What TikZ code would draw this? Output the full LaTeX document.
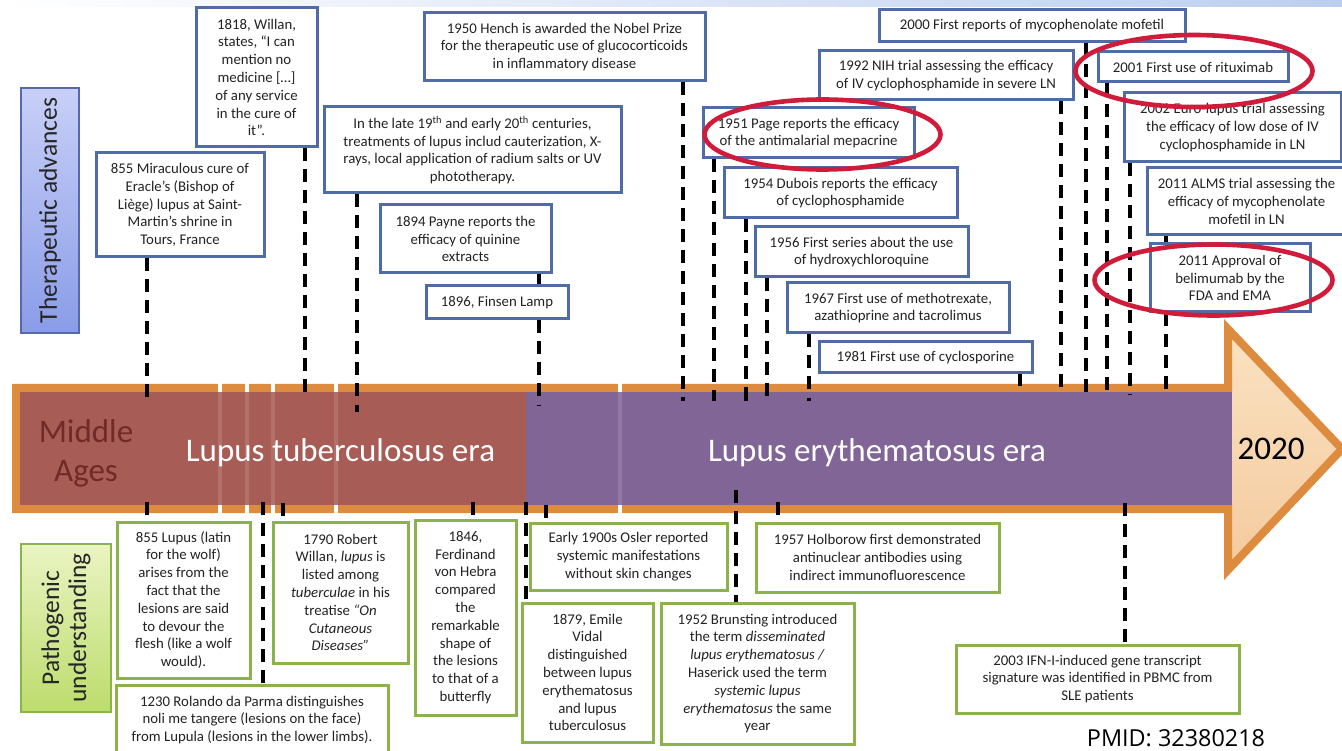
\documentclass[tikz,border=0pt]{standalone}
\usepackage{fontspec}
\setmainfont{Carlito}
\newfontfamily\pmidfont{Open Sans}
\usetikzlibrary{shapes.geometric}

\definecolor{barorange}{RGB}{221,139,62}
\definecolor{brick}{RGB}{167,92,86}
\definecolor{erapurple}{RGB}{128,101,150}
\definecolor{peachtop}{RGB}{250,226,194}
\definecolor{peachbot}{RGB}{244,202,158}
\definecolor{maroon}{RGB}{112,42,40}
\definecolor{tborder}{RGB}{79,108,168}
\definecolor{pborder}{RGB}{140,178,76}
\definecolor{boxtext}{RGB}{35,35,35}
\definecolor{ringred}{RGB}{208,28,58}
\definecolor{sideblueA}{RGB}{200,208,247}
\definecolor{sideblueB}{RGB}{138,156,232}
\definecolor{sideblueline}{RGB}{88,104,172}
\definecolor{sidegreenA}{RGB}{234,244,194}
\definecolor{sidegreenB}{RGB}{188,220,108}
\definecolor{topblue}{RGB}{188,206,240}

\newcommand\tlboxfont{\fontsize{14.8}{17.8}\selectfont}
\newcommand\tlerafont{\fontsize{33}{39}\selectfont}
\newcommand\tlsidefont{\fontsize{25.5}{27}\selectfont}

\begin{document}
\begin{tikzpicture}[x=1pt,y=-1pt,
  tbox/.style={draw=tborder, line width=3pt, fill=white, inner sep=0pt,
    align=center, font=\tlboxfont, text=boxtext},
  pbox/.style={draw=pborder, line width=3pt, fill=white, inner sep=0pt,
    align=center, font=\tlboxfont, text=boxtext},
  conn/.style={draw=black, line width=3.6pt, dash pattern=on 13pt off 8pt},
  ring/.style={ellipse, draw=ringred, line width=4.6pt, inner sep=0pt},
  eralabel/.style={font=\tlerafont, anchor=base, inner sep=0pt},
  sidelabel/.style={font=\tlsidefont, text={rgb,255:red,38;green,38;blue,38},
    rotate=90, align=center, inner sep=0pt}]

\useasboundingbox (0,0) rectangle (1342,751);
\fill[white] (0,0) rectangle (1342,751);

% light band along the top edge
\shade[left color=white, right color=topblue] (0,0) rectangle (1342,7);

% ---- the time arrow ----
\draw[barorange, line width=8pt, line join=miter, top color=peachtop, bottom color=peachbot]
  (16,388) -- (1228,388) -- (1228,329) -- (1342,449) -- (1228,570) -- (1228,509)
  -- (16,509) -- cycle;
\fill[brick] (20,392) rectangle (526,505);
\fill[erapurple] (526,392) rectangle (1232,505);
% segment joints
\foreach \gx in {220,247,273,336,620}{
  \fill[white] (\gx-1.6,382) rectangle (\gx+1.6,392.5);
  \fill[white] (\gx-1.6,505) rectangle (\gx+1.6,515);
  \fill[white, opacity=0.13] (\gx-1.6,392) rectangle (\gx+1.6,505);
}

\node[font=\tlerafont, text=maroon, align=center, inner sep=0pt] (middleages) at (86,453) {Middle\\Ages};
\node[eralabel, text=white] (tbera) at (340.5,461) {Lupus tuberculosus era};
\node[eralabel, text=white] (erera) at (877,461) {Lupus erythematosus era};
\node[eralabel, text=black] (yr2020) at (1271,459) {2020};

% ---- side labels ----
\node[draw=sideblueline, line width=2pt, top color=sideblueA, bottom color=sideblueB,
  minimum width=58, minimum height=245, inner sep=0pt] (thbox) at (50,210.5) {};
\node[sidelabel] (thlabel) at (thbox.center) {Therapeutic advances};
\node[draw=pborder, line width=2pt, top color=sidegreenA, bottom color=sidegreenB,
  minimum width=90, minimum height=168, inner sep=0pt] (pgbox) at (66,628) {};
\node[sidelabel] (pglabel) at (pgbox.center) {Pathogenic\\understanding};

% ---- therapeutic advances (top) ----
\node[tbox, minimum width=121, minimum height=139] (w1818) at (256.5,77.5)
  {1818, Willan,\\states, “I can\\mention no\\medicine […]\\of any service\\in the cure of\\it”.};
\node[tbox, minimum width=168, minimum height=104] (eracle) at (180,205)
  {855 Miraculous cure of\\Eracle’s (Bishop of\\Liège) lupus at Saint-\\Martin’s shrine in\\Tours, France};
\node[tbox, minimum width=297, minimum height=86] (late19) at (472.5,150)
  {In the late 19\textsuperscript{th} and early 20\textsuperscript{th} centuries,\\treatments of lupus includ cauterization, X-\\rays, local application of radium salts or UV\\phototherapy.};
\node[tbox, minimum width=171, minimum height=68] (payne) at (465.5,239)
  {1894 Payne reports the\\efficacy of quinine\\extracts};
\node[tbox, minimum width=142, minimum height=33] (finsen) at (497,302.5)
  {1896, Finsen Lamp};
\node[tbox, minimum width=281, minimum height=68] (hench) at (564.5,47)
  {1950 Hench is awarded the Nobel Prize\\for the therapeutic use of glucocorticoids\\in inflammatory disease};
\node[tbox, minimum width=211, minimum height=50] (page) at (808.5,133)
  {1951 Page reports the efficacy\\of the antimalarial mepacrine};
\node[tbox, minimum width=233, minimum height=50] (dubois) at (840.5,193)
  {1954 Dubois reports the efficacy\\of cyclophosphamide};
\node[tbox, minimum width=213, minimum height=50] (hcq) at (861.5,252)
  {1956 First series about the use\\of hydroxychloroquine};
\node[tbox, minimum width=222, minimum height=50] (mtx) at (898,308)
  {1967 First use of methotrexate,\\azathioprine and tacrolimus};
\node[tbox, minimum width=213, minimum height=31] (csa) at (925.5,357.5)
  {1981 First use of cyclosporine};
\node[tbox, minimum width=254, minimum height=49] (nih) at (946,75.5)
  {1992 NIH trial assessing the efficacy\\of IV cyclophosphamide in severe LN};
\node[tbox, minimum width=306, minimum height=32] (mmf) at (1032,26)
  {2000 First reports of mycophenolate mofetil};
\node[tbox, minimum width=190, minimum height=30] (rtx) at (1193,67)
  {2001 First use of rituximab};
\node[tbox, minimum width=217, minimum height=69] (euro) at (1232.5,127.5)
  {2002 Euro-lupus trial assessing\\the efficacy of low dose of IV\\cyclophosphamide in LN};
\node[tbox, minimum width=199, minimum height=67] (alms) at (1246.5,201.5)
  {2011 ALMS trial assessing the\\efficacy of mycophenolate\\mofetil in LN};
\node[tbox, minimum width=160, minimum height=68] (bel) at (1230,278)
  {2011 Approval of\\belimumab by the\\FDA and EMA};

% ---- pathogenic understanding (bottom) ----
\node[pbox, minimum width=133, minimum height=156] (wolf) at (183.5,600)
  {855 Lupus (latin\\for the wolf)\\arises from the\\fact that the\\lesions are said\\to devour the\\flesh (like a wolf\\would).};
\node[pbox, minimum width=272, minimum height=70] (rolando) at (252,720)
  {1230 Rolando da Parma distinguishes\\noli me tangere (lesions on the face)\\from Lupula (lesions in the lower limbs).};
\node[pbox, minimum width=135, minimum height=141] (willan) at (340.5,592.5)
  {1790 Robert\\Willan, \textit{lupus} is\\listed among\\\textit{tuberculae} in his\\treatise \textit{“On}\\\textit{Cutaneous}\\\textit{Diseases”}};
\node[pbox, minimum width=101, minimum height=195] (hebra) at (465.5,617.5)
  {1846,\\Ferdinand\\von Hebra\\compared\\the\\remarkable\\shape of\\the lesions\\to that of a\\butterfly};
\node[pbox, minimum width=197, minimum height=67] (osler) at (628.5,556.5)
  {Early 1900s Osler reported\\systemic manifestations\\without skin changes};
\node[pbox, minimum width=131, minimum height=139] (vidal) at (587.5,672.5)
  {1879, Emile\\Vidal\\distinguished\\between lupus\\erythematosus\\and lupus\\tuberculosus};
\node[pbox, minimum width=193, minimum height=141] (brunsting) at (757.5,673.5)
  {1952 Brunsting introduced\\the term \textit{disseminated}\\\textit{lupus erythematosus /}\\Haserick used the term\\\textit{systemic lupus}\\\textit{erythematosus} the same\\year};
\node[pbox, minimum width=243, minimum height=69] (holborow) at (877.5,557.5)
  {1957 Holborow first demonstrated\\antinuclear antibodies using\\indirect immunofluorescence};
\node[pbox, minimum width=283, minimum height=68] (ifn) at (1097.5,679)
  {2003 IFN-I-induced gene transcript\\signature was identified in PBMC from\\SLE patients};

% ---- anchor points on the arrow ----
\coordinate (tEracle) at (147,400);
\coordinate (tW1818) at (305,395);
\coordinate (tLate19) at (357,412);
\coordinate (tFinsen) at (539,406);
\coordinate (tHench) at (683,401);
\coordinate (tPage) at (714,401);
\coordinate (tDubois) at (746,401);
\coordinate (tHcq) at (767,401);
\coordinate (tMtx) at (809,401);
\coordinate (tCsa) at (1020,386);
\coordinate (tNih) at (1061,395);
\coordinate (tMmf) at (1086,395);
\coordinate (tRtx) at (1107,395);
\coordinate (tEuro) at (1130,395);
\coordinate (tBel) at (1166,395);

\coordinate (bWolf) at (147,502);
\coordinate (bRolando) at (263,502);
\coordinate (bWillan) at (283,503);
\coordinate (bHebra) at (473,502);
\coordinate (bVidal) at (526,502);
\coordinate (bOsler) at (546,505);
\coordinate (bBrunsting) at (736,490);
\coordinate (bHolborow) at (778,502);
\coordinate (bIfn) at (1125,503);

% ---- connectors ----
\draw[conn] (eracle.south -| tEracle) -- (tEracle);
\draw[conn] (w1818.south -| tW1818) -- (tW1818);
\draw[conn] (late19.south -| tLate19) -- (tLate19);
\draw[conn] (payne.south -| tFinsen) -- (finsen.north -| tFinsen);
\draw[conn] (finsen.south -| tFinsen) -- (tFinsen);
\draw[conn] (hench.south -| tHench) -- (tHench);
\draw[conn] (page.south -| tPage) -- (tPage);
\draw[conn] (dubois.south -| tDubois) -- (tDubois);
\draw[conn] (hcq.south -| tHcq) -- (tHcq);
\draw[conn] (mtx.south -| tMtx) -- (tMtx);
\draw[conn] (csa.south -| tCsa) -- (tCsa);
\draw[conn] (nih.south -| tNih) -- (tNih);
\draw[conn] (mmf.south -| tMmf) -- (tMmf);
\draw[conn] (rtx.south -| tRtx) -- (tRtx);
\draw[conn] (euro.south -| tEuro) -- (tEuro);
\draw[conn] (alms.south -| tBel) -- (bel.north -| tBel);
\draw[conn] (bel.south -| tBel) -- (tBel);

\draw[conn] (bWolf) -- (wolf.north -| bWolf);
\draw[conn] (bRolando) -- (rolando.north -| bRolando);
\draw[conn] (bWillan) -- (willan.north -| bWillan);
\draw[conn] (bHebra) -- (hebra.north -| bHebra);
\draw[conn] (bVidal) -- (vidal.north -| bVidal);
\draw[conn] (bOsler) -- (osler.north -| bOsler);
\draw[conn] (bBrunsting) -- (brunsting.north -| bBrunsting);
\draw[conn] (bHolborow) -- (holborow.north -| bHolborow);
\draw[conn] (bIfn) -- (ifn.north -| bIfn);

% ---- highlight rings ----
\node[ring, minimum width=236, minimum height=70] (ringPage) at (822.5,134.5) {};
\node[ring, minimum width=237, minimum height=72] (ringRtx) at (1194,71) {};
\node[ring, minimum width=238, minimum height=71] (ringBel) at (1213.5,280) {};

% ---- reference ----
\node[font=\pmidfont\fontsize{23.4}{26}\selectfont, anchor=base, inner sep=0pt] (pmid) at (1176,746)
  {PMID: 32380218};
\end{tikzpicture}
\end{document}
